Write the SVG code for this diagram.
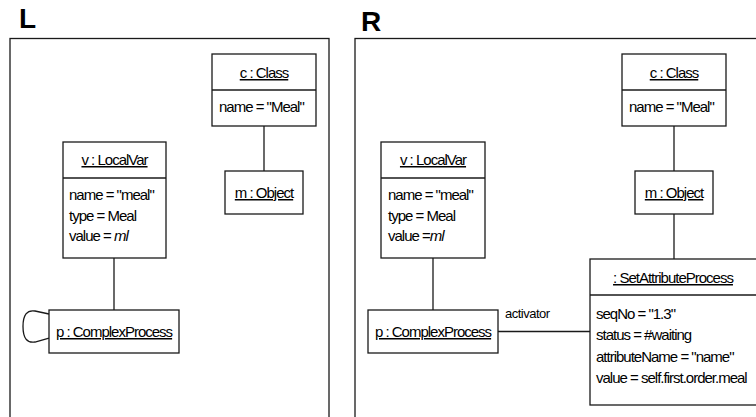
<svg xmlns="http://www.w3.org/2000/svg" width="756" height="417" viewBox="0 0 756 417">
  <style>
    .frame { fill: none; stroke: #1a1a1a; stroke-width: 1.3; }
    .box { fill: #ffffff; stroke: #1a1a1a; stroke-width: 1.3; }
    .sep { stroke: #1a1a1a; stroke-width: 1.3; }
    .link { fill: none; stroke: #1a1a1a; stroke-width: 1.3; }
    .panel { font-family: "Liberation Sans", Arial, sans-serif; font-weight: bold; font-size: 28px; fill: #000; }
    .t { font-family: "Liberation Sans", Arial, sans-serif; font-size: 15px; letter-spacing: -1px; fill: #000; }
    .title { text-anchor: middle; text-decoration: underline; }
    .lbl { font-family: "Liberation Sans", Arial, sans-serif; font-size: 13px; letter-spacing: -0.5px; fill: #000; }
  </style>

  <!-- panel headings and frames -->
  <text class="panel" x="19" y="28">L</text>
  <text class="panel" x="361" y="31">R</text>
  <rect class="frame" x="10" y="38.5" width="319" height="400"/>
  <rect class="frame" x="355" y="38.5" width="420" height="400"/>

  <!-- connectors -->
  <g id="connectors">
    <line class="link" x1="264" y1="126" x2="264" y2="171"/>
    <line class="link" x1="114" y1="258" x2="114" y2="310"/>
    <path class="link" d="M49,314 L35,311 Q23,309 23,326.5 Q23,344 35,342 L49,338"/>
    <line class="link" x1="674" y1="126" x2="674" y2="171"/>
    <line class="link" x1="674" y1="214" x2="674" y2="259"/>
    <line class="link" x1="433" y1="258" x2="433" y2="310"/>
    <line class="link" x1="498" y1="331.5" x2="590" y2="331.5"/>
    <text class="lbl" x="505" y="318">activator</text>
  </g>

  <!-- left panel nodes -->
  <g id="L-class">
    <rect class="box" x="212" y="54" width="104" height="72"/>
    <line class="sep" x1="212" y1="90" x2="316" y2="90"/>
    <text class="t title" x="264" y="78">c : Class</text>
    <text class="t" x="219" y="112">name = "Meal"</text>
  </g>
  <g id="L-object">
    <rect class="box" x="225" y="171" width="78" height="43"/>
    <text class="t title" x="264" y="198">m : Object</text>
  </g>
  <g id="L-localvar">
    <rect class="box" x="63" y="142" width="103" height="116"/>
    <line class="sep" x1="63" y1="178" x2="166" y2="178"/>
    <text class="t title" x="114.5" y="165">v : LocalVar</text>
    <text class="t" x="69" y="200">name = "meal"</text>
    <text class="t" x="69" y="221">type = Meal</text>
    <text class="t" x="69" y="241">value = <tspan font-style="italic">ml</tspan></text>
  </g>
  <g id="L-process">
    <rect class="box" x="49" y="310" width="130" height="43"/>
    <text class="t title" x="114" y="337">p : ComplexProcess</text>
  </g>

  <!-- right panel nodes -->
  <g id="R-class">
    <rect class="box" x="622" y="54" width="104" height="72"/>
    <line class="sep" x1="622" y1="90" x2="726" y2="90"/>
    <text class="t title" x="674" y="78">c : Class</text>
    <text class="t" x="629" y="112">name = "Meal"</text>
  </g>
  <g id="R-object">
    <rect class="box" x="635" y="171" width="78" height="43"/>
    <text class="t title" x="674" y="198">m : Object</text>
  </g>
  <g id="R-localvar">
    <rect class="box" x="381" y="142" width="104" height="116"/>
    <line class="sep" x1="381" y1="178" x2="485" y2="178"/>
    <text class="t title" x="433" y="165">v : LocalVar</text>
    <text class="t" x="388" y="200">name = "meal"</text>
    <text class="t" x="388" y="221">type = Meal</text>
    <text class="t" x="388" y="241">value =<tspan font-style="italic">ml</tspan></text>
  </g>
  <g id="R-process">
    <rect class="box" x="368" y="310" width="130" height="43"/>
    <text class="t title" x="433" y="337">p : ComplexProcess</text>
  </g>
  <g id="R-setattr">
    <rect class="box" x="590" y="259" width="180" height="146"/>
    <line class="sep" x1="590" y1="295" x2="770" y2="295"/>
    <text class="t title" x="673" y="283">: SetAttributeProcess</text>
    <text class="t" x="596" y="319">seqNo = "1.3"</text>
    <text class="t" x="596" y="340">status = #waiting</text>
    <text class="t" x="596" y="362">attributeName = "name"</text>
    <text class="t" x="596" y="383">value = self.first.order.meal</text>
  </g>
</svg>
